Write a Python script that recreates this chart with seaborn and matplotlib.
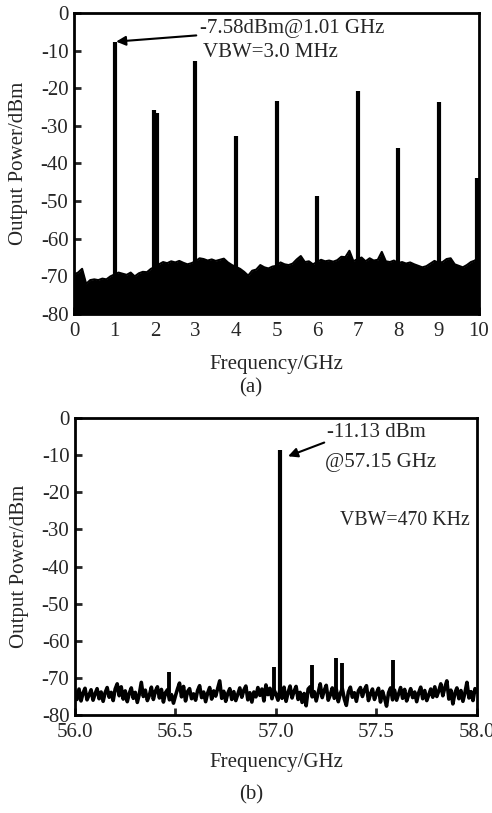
import numpy as np
import matplotlib
matplotlib.use("Agg")
import matplotlib.pyplot as plt
import seaborn as sns

# -----------------------------
# data
# -----------------------------
# (a) 0-10 GHz sweep: noise floor every 0.1 GHz
freq_a = np.round(np.arange(0, 10.01, 0.1), 2)
floor_a = [
    -69.5, -69.0, -68.0, -72.0, -71.0, -70.8, -71.0, -70.6, -70.8, -70.0,
    -69.5, -69.0, -69.3, -69.6, -69.0, -70.0, -69.2, -68.8, -68.9, -68.0,
    -67.5, -66.8, -66.2, -66.5, -66.0, -66.3, -65.9, -66.4, -66.8, -66.5,
    -66.0, -65.2, -65.4, -65.8, -65.5, -65.9, -65.6, -65.3, -66.3, -67.0,
    -67.5, -68.0, -68.8, -69.8, -68.5, -68.2, -67.0, -67.6, -67.9, -67.4,
    -67.2, -66.3, -66.8, -67.0, -66.6, -65.5, -64.6, -66.2, -66.0, -66.8,
    -66.2, -65.6, -66.0, -65.8, -66.1, -65.7, -64.8, -64.9, -63.2, -66.0,
    -65.4, -65.0, -66.0, -65.2, -65.8, -65.6, -63.5, -66.0, -66.2, -65.8,
    -66.5, -66.2, -66.6, -66.3, -66.8, -67.2, -67.6, -67.3, -66.6, -65.9,
    -66.4, -66.2, -65.4, -65.2, -66.8, -67.2, -67.6, -67.0, -66.2, -65.8,
    -64.5,
]
# harmonics of the comb
peak_freq_a = [1.01, 1.98, 2.04, 2.99, 4.00, 5.01, 6.00, 7.01, 8.01, 9.02, 9.96]
peak_power_a = [-7.58, -25.8, -26.5, -12.8, -32.6, -23.3, -48.6, -20.7, -35.9, -23.6, -43.8]

# (b) 56-58 GHz sweep: noise trace every 0.01 GHz
freq_b = np.round(np.linspace(56.0, 58.0, 201), 3)
noise_b = [
    -73.5, -75.8, -73.0, -76.2, -74.1, -72.8, -75.9, -74.6, -73.2, -76.0,
    -74.3, -72.9, -75.6, -73.8, -76.3, -74.0, -72.6, -75.2, -73.9, -76.1,
    -73.0, -71.6, -74.8, -72.4, -75.7, -73.5, -76.4, -74.2, -72.7, -75.5,
    -73.9, -76.6, -74.4, -71.2, -75.0, -73.3, -76.1, -74.7, -72.5, -75.8,
    -73.6, -72.4, -75.4, -73.1, -76.5, -74.0, -73.2, -75.9, -74.5, -76.8,
    -74.8, -73.0, -71.4, -75.1, -72.3, -76.2, -73.7, -72.9, -75.6, -74.3,
    -76.0, -73.4, -72.1, -75.3, -73.8, -76.4, -74.1, -72.6, -75.7, -73.5,
    -74.9, -72.8, -70.8, -75.5, -73.6, -76.3, -74.2, -72.9, -75.8, -73.7,
    -76.1, -74.4, -72.7, -75.2, -73.3, -72.2, -75.9, -74.0, -76.5, -73.8,
    -75.1, -72.6, -74.7, -73.0, -76.2, -71.9, -74.5, -72.8, -75.6, -73.2,
    -74.4, -76.0, -73.1, -75.5, -72.5, -76.3, -74.0, -72.2, -75.4, -73.6,
    -72.3, -75.8, -73.9, -76.6, -74.2, -77.5, -73.0, -72.4, -75.1, -73.7,
    -76.2, -74.0, -71.6, -75.3, -73.4, -72.0, -76.0, -74.6, -72.7, -75.5,
    -73.1, -76.4, -74.2, -72.9, -75.7, -77.4, -73.8, -72.5, -75.2, -74.0,
    -76.3, -73.5, -72.6, -75.0, -73.2, -72.1, -76.1, -74.4, -73.0, -75.8,
    -74.1, -72.8, -76.5, -73.6, -75.4, -77.6, -74.0, -72.7, -75.9, -73.3,
    -76.0, -74.3, -72.6, -75.5, -73.1, -76.2, -74.5, -72.9, -75.3, -73.8,
    -76.4, -74.0, -72.5, -75.6, -73.4, -76.1, -74.6, -73.0, -75.2, -72.4,
    -75.0, -73.5, -71.6, -74.8, -72.6, -70.8, -75.7, -73.3, -77.0, -74.1,
    -72.7, -75.6, -73.4, -76.3, -74.0, -71.2, -75.4, -73.7, -76.1, -72.9,
    -73.8,
]
spur_freq_b = [56.47, 56.99, 57.18, 57.30, 57.33, 57.58]
spur_power_b = [-68.3, -67.0, -66.5, -64.7, -66.1, -65.2]
main_freq_b = 57.02
main_power_b = -8.6

# -----------------------------
# style
# -----------------------------
sns.set_style("ticks")
plt.rcParams['font.family'] = ['Liberation Serif', 'DejaVu Serif']
plt.rcParams['axes.unicode_minus'] = False
plt.rcParams['axes.linewidth'] = 2.0
FS = 15

fig = plt.figure(figsize=(4.92, 8.13), dpi=100)
ax1 = fig.add_axes([0.1504, 0.6138, 0.8232, 0.3702])
ax2 = fig.add_axes([0.1524, 0.1205, 0.8171, 0.3653])

# -----------------------------
# (a) 0-10 GHz
# -----------------------------
ax1.fill_between(freq_a, floor_a, -80, color='black', lw=0)
sns.lineplot(x=freq_a, y=floor_a, color='black', lw=1.5, ax=ax1)
ax1.vlines(peak_freq_a, -80, peak_power_a, color='black', lw=3)
ax1.set_xlim(0, 10)
ax1.set_ylim(-80, 0)
ax1.set_xticks(range(0, 11))
ax1.set_yticks(range(-80, 1, 10))
ax1.set_xlabel("Frequency/GHz", fontsize=FS, labelpad=10)
ax1.set_ylabel("Output Power/dBm", fontsize=FS, labelpad=9)
ax1.annotate("-7.58dBm@1.01 GHz", xy=(1.04, -7.6), xytext=(3.1, -4.0),
             fontsize=FS, va='center', ha='left',
             arrowprops=dict(arrowstyle='-|>', color='black', lw=1.5,
                             mutation_scale=14, shrinkA=0, shrinkB=0))
ax1.text(3.19, -10.6, "VBW=3.0 MHz", fontsize=FS, va='center', ha='left')
fig.text(0.5104, 1 - 388 / 813, "(a)", fontsize=FS, ha='center', va='center')

# -----------------------------
# (b) 56-58 GHz
# -----------------------------
sns.lineplot(x=freq_b, y=noise_b, color='black', lw=2.6, ax=ax2)
ax2.vlines(spur_freq_b, -74, spur_power_b, color='black', lw=2.8)
ax2.vlines([main_freq_b], -74, [main_power_b], color='black', lw=3)
ax2.set_xlim(56, 58)
ax2.set_ylim(-80, 0)
ax2.set_xticks(np.arange(56, 58.01, 0.5))
ax2.set_xticklabels([f"{v:.1f}" for v in np.arange(56, 58.01, 0.5)])
ax2.set_yticks(range(-80, 1, 10))
ax2.set_xlabel("Frequency/GHz", fontsize=FS, labelpad=8)
ax2.set_ylabel("Output Power/dBm", fontsize=FS, labelpad=9)
ax2.text(57.254, -4.0, "-11.13 dBm", fontsize=FS, va='center', ha='left')
ax2.text(57.244, -11.85, "@57.15 GHz", fontsize=FS, va='center', ha='left')
ax2.annotate("", xy=(57.06, -10.3), xytext=(57.24, -6.6),
             arrowprops=dict(arrowstyle='-|>', color='black', lw=1.5,
                             mutation_scale=14, shrinkA=0, shrinkB=0))
ax2.text(57.32, -27.5, "VBW=470 KHz", fontsize=14.3, va='center', ha='left')
fig.text(0.5104, 1 - 795 / 813, "(b)", fontsize=FS, ha='center', va='center')

for ax in (ax1, ax2):
    ax.tick_params(direction='in', length=5, width=2, labelsize=FS,
                   top=False, right=False, pad=4)
    ax.tick_params(axis='x', pad=6)
    for sp in ax.spines.values():
        sp.set_visible(True)
        sp.set_linewidth(2.0)
        sp.set_color('black')

fig.savefig("out.png", dpi=100, facecolor='white')
